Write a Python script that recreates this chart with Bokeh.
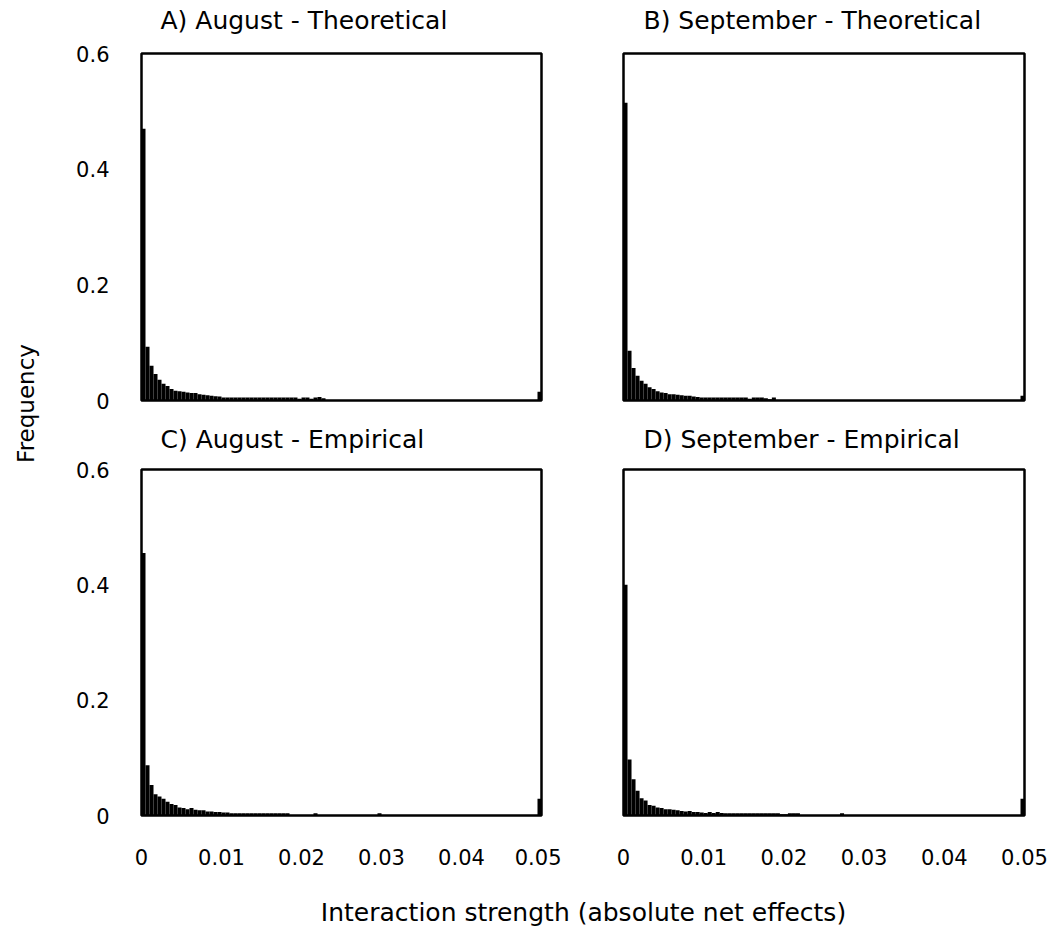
import numpy as np
from bokeh.plotting import figure
from bokeh.layouts import row, column
from bokeh.models import FixedTicker, Label
from bokeh.embed import file_html
from bokeh.resources import INLINE

# ---------------- data ----------------
BIN_WIDTH = 0.0005          # histogram bin width (interaction strength)
N_BINS = 100                # 0 .. 0.05 (last bin collects values >= 0.0495)

freq_aug_theoretical = [
    0.470, 0.093, 0.060, 0.046, 0.036, 0.029, 0.025, 0.020, 0.017, 0.016,
    0.015, 0.014, 0.013, 0.013, 0.011, 0.010, 0.009, 0.008, 0.0075, 0.007,
    0.005, 0.005, 0.005, 0.005, 0.005, 0.005, 0.005, 0.005, 0.005, 0.005,
    0.005, 0.005, 0.005, 0.005, 0.005, 0.005, 0.005, 0.005, 0.005, 0.003,
    0.005, 0.005, 0.003, 0.005, 0.006, 0.004, 0.0, 0.0, 0.0, 0.0,
    0.0, 0.0, 0.0, 0.0, 0.0, 0.0, 0.0, 0.0, 0.0, 0.0,
    0.0, 0.0, 0.0, 0.0, 0.0, 0.0, 0.0, 0.0, 0.0, 0.0,
    0.0, 0.0, 0.0, 0.0, 0.0, 0.0, 0.0, 0.0, 0.0, 0.0,
    0.0, 0.0, 0.0, 0.0, 0.0, 0.0, 0.0, 0.0, 0.0, 0.0,
    0.0, 0.0, 0.0, 0.0, 0.0, 0.0, 0.0, 0.0, 0.0, 0.015,
]

freq_sep_theoretical = [
    0.515, 0.086, 0.056, 0.043, 0.034, 0.029, 0.023, 0.020, 0.016, 0.014,
    0.013, 0.011, 0.011, 0.010, 0.009, 0.008, 0.008, 0.007, 0.006, 0.005,
    0.005, 0.005, 0.005, 0.005, 0.005, 0.005, 0.005, 0.005, 0.005, 0.005,
    0.005, 0.003, 0.005, 0.005, 0.005, 0.004, 0.002, 0.005, 0.0, 0.0,
    0.0, 0.0, 0.0, 0.0, 0.0, 0.0, 0.0, 0.0, 0.0, 0.0,
    0.0, 0.0, 0.0, 0.0, 0.0, 0.0, 0.0, 0.0, 0.0, 0.0,
    0.0, 0.0, 0.0, 0.0, 0.0, 0.0, 0.0, 0.0, 0.0, 0.0,
    0.0, 0.0, 0.0, 0.0, 0.0, 0.0, 0.0, 0.0, 0.0, 0.0,
    0.0, 0.0, 0.0, 0.0, 0.0, 0.0, 0.0, 0.0, 0.0, 0.0,
    0.0, 0.0, 0.0, 0.0, 0.0, 0.0, 0.0, 0.0, 0.0, 0.008,
]

freq_aug_empirical = [
    0.455, 0.087, 0.053, 0.037, 0.033, 0.029, 0.024, 0.020, 0.018, 0.014,
    0.013, 0.011, 0.013, 0.010, 0.009, 0.009, 0.007, 0.007, 0.006, 0.006,
    0.005, 0.005, 0.004, 0.004, 0.004, 0.004, 0.004, 0.004, 0.004, 0.004,
    0.004, 0.004, 0.004, 0.004, 0.004, 0.004, 0.004, 0.0, 0.0, 0.0,
    0.0, 0.0, 0.0, 0.004, 0.0, 0.0, 0.0, 0.0, 0.0, 0.0,
    0.0, 0.0, 0.0, 0.0, 0.0, 0.0, 0.0, 0.0, 0.0, 0.004,
    0.0, 0.0, 0.0, 0.0, 0.0, 0.0, 0.0, 0.0, 0.0, 0.0,
    0.0, 0.0, 0.0, 0.0, 0.0, 0.0, 0.0, 0.0, 0.0, 0.0,
    0.0, 0.0, 0.0, 0.0, 0.0, 0.0, 0.0, 0.0, 0.0, 0.0,
    0.0, 0.0, 0.0, 0.0, 0.0, 0.0, 0.0, 0.0, 0.0, 0.029,
]

freq_sep_empirical = [
    0.400, 0.097, 0.063, 0.043, 0.030, 0.026, 0.018, 0.017, 0.014, 0.013,
    0.011, 0.011, 0.010, 0.009, 0.008, 0.007, 0.008, 0.006, 0.006, 0.005,
    0.0045, 0.006, 0.0045, 0.006, 0.0045, 0.004, 0.004, 0.004, 0.004, 0.004,
    0.004, 0.004, 0.004, 0.004, 0.004, 0.004, 0.004, 0.004, 0.004, 0.002,
    0.002, 0.004, 0.004, 0.004, 0.0, 0.0, 0.0, 0.0, 0.0, 0.0,
    0.0, 0.0, 0.0, 0.0, 0.004, 0.0, 0.0, 0.0, 0.0, 0.0,
    0.0, 0.0, 0.0, 0.0, 0.0, 0.0, 0.0, 0.0, 0.0, 0.0,
    0.0, 0.0, 0.0, 0.0, 0.0, 0.0, 0.0, 0.0, 0.0, 0.0,
    0.0, 0.0, 0.0, 0.0, 0.0, 0.0, 0.0, 0.0, 0.0, 0.0,
    0.0, 0.0, 0.0, 0.0, 0.0, 0.0, 0.0, 0.0, 0.0, 0.029,
]

panel_titles = ["A) August - Theoretical", "B) September - Theoretical",
                "C) August - Empirical", "D) September - Empirical"]

x_ticks = [0, 0.01, 0.02, 0.03, 0.04, 0.05]
x_tick_labels = ["0", "0.01", "0.02", "0.03", "0.04", "0.05"]
y_ticks = [0, 0.2, 0.4, 0.6]
y_tick_labels = ["0", "0.2", "0.4", "0.6"]

x_axis_title = "Interaction strength (absolute net effects)"
y_axis_title = "Frequency"

# ---------------- styling ----------------
FONT = "DejaVu Sans"
TICK_SIZE = "21px"
TITLE_SIZE = "25px"

edges = np.arange(N_BINS + 1) * BIN_WIDTH


def make_panel(vals, show_x, show_y, mbl, mbr, mbt, mbb, fw, fh):
    p = figure(frame_width=fw, frame_height=fh,
               x_range=(0, 0.05), y_range=(0, 0.6),
               x_axis_location="below" if show_x else None,
               y_axis_location="left" if show_y else None,
               min_border_left=mbl, min_border_right=mbr,
               min_border_top=mbt, min_border_bottom=mbb,
               output_backend="svg", toolbar_location=None)
    p.quad(left=edges[:-1], right=edges[1:], bottom=0, top=vals,
           fill_color="black", line_color=None)
    p.grid.visible = False
    p.outline_line_color = "black"
    p.outline_line_width = 2.5
    p.outline_line_alpha = 1.0
    p.background_fill_color = "white"
    p.border_fill_color = "white"
    if show_x:
        ax = p.xaxis[0]
        ax.ticker = FixedTicker(ticks=x_ticks)
        ax.major_label_overrides = {t: l for t, l in zip(x_ticks, x_tick_labels)}
        ax.major_tick_line_color = None
        ax.minor_tick_line_color = None
        ax.axis_line_color = None
        ax.major_label_text_font = FONT
        ax.major_label_text_font_size = TICK_SIZE
        ax.major_label_text_color = "black"
        ax.major_label_standoff = 27
    if show_y:
        ay = p.yaxis[0]
        ay.ticker = FixedTicker(ticks=y_ticks)
        ay.major_label_overrides = {t: l for t, l in zip(y_ticks, y_tick_labels)}
        ay.major_tick_line_color = None
        ay.minor_tick_line_color = None
        ay.axis_line_color = None
        ay.major_label_text_font = FONT
        ay.major_label_text_font_size = TICK_SIZE
        ay.major_label_text_color = "black"
        ay.major_label_standoff = 26
        ay.major_label_orientation = "horizontal"
    return p


def text_strip(width, height, labels):
    s = figure(width=width, height=height, x_axis_location=None, y_axis_location=None,
               min_border=0, output_backend="svg", toolbar_location=None)
    s.outline_line_color = None
    s.grid.visible = False
    for (x, y, txt, size, angle, align) in labels:
        s.add_layout(Label(x=x, y=y, x_units="screen", y_units="screen",
                           text=txt, angle=angle, text_font=FONT,
                           text_font_size=size, text_color="black",
                           text_align=align, text_baseline="middle"))
    return s


pA = make_panel(freq_aug_theoretical, False, True, 83, 20, 13, 14, 400, 347)
pB = make_panel(freq_sep_theoretical, False, False, 62, 28, 13, 14, 401, 347)
pC = make_panel(freq_aug_empirical, True, True, 83, 20, 14, 65, 400, 346)
pD = make_panel(freq_sep_empirical, True, False, 62, 28, 14, 65, 401, 346)

titles_top = text_strip(994, 40, [(102, 20, panel_titles[0], TITLE_SIZE, 0, "left"),
                                  (585, 20, panel_titles[1], TITLE_SIZE, 0, "left")])
titles_mid = text_strip(994, 41, [(102, 16, panel_titles[2], TITLE_SIZE, 0, "left"),
                                  (585, 16, panel_titles[3], TITLE_SIZE, 0, "left")])

ylab = text_strip(58, 880, [(25, 477, y_axis_title, "23px", np.pi / 2, "center")])
xlab = text_strip(1052, 49, [(583, 17, x_axis_title, "25px", 0, "center")])

panels = column(titles_top, row(pA, pB), titles_mid, row(pC, pD))
layout = column(row(ylab, panels), xlab)

open("out.html", "w").write(file_html(layout, INLINE))
